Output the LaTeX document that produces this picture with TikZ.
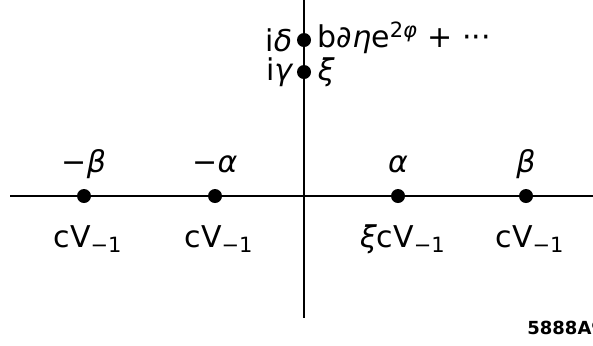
\documentclass[tikz,border=0pt]{standalone}
\usepackage{fontspec}
\setmainfont{DejaVu Sans}
\newcommand{\gr}[1]{{\itshape #1}}
\tikzset{
  pt/.style={circle, fill=black, inner sep=0pt, minimum size=7pt},
  lbl/.style={inner sep=1pt, font=\fontsize{15}{17}\selectfont},
}
\begin{document}
\begin{tikzpicture}[x=0.5pt, y=-0.5pt]
    \useasboundingbox (0,0) rectangle (593,345);

    \coordinate (hl) at (10,196);
    \coordinate (hr) at (593,196);
    \coordinate (vt) at (304,0);
    \coordinate (vb) at (304,318);
    \draw[line width=1.2pt] (hl) -- (hr);
    \draw[line width=1.2pt] (vt) -- (vb);

    \node[pt] (mb) at (84,196)  {};
    \node[pt] (ma) at (215,196) {};
    \node[pt] (pa) at (398,196) {};
    \node[pt] (pb) at (526,196) {};
    \node[pt] (id) at (304,40)  {};
    \node[pt] (ig) at (304,72)  {};

    \node[lbl] at (84,164)  {−\gr{β}};
    \node[lbl] at (215,164) {−\gr{α}};
    \node[lbl] at (398,164) {\gr{α}};
    \node[lbl] at (526,164) {\gr{β}};
    \node[lbl] at (88,239)  {cV\textsubscript{−1}};
    \node[lbl] at (219,239) {cV\textsubscript{−1}};
    \node[lbl] at (403,239) {\gr{ξ}cV\textsubscript{−1}};
    \node[lbl] at (530,239) {cV\textsubscript{−1}};

    \node[lbl, left=1pt] at (id.west) {i\gr{δ}};
    \node[lbl, left=1pt] at (ig.west) {i\gr{γ}};
    \node[lbl, right=2pt, yshift=1pt] at (id.east) {b∂\gr{η}e\textsuperscript{2\gr{φ}} + ···};
    \node[lbl, right=2pt] at (ig.east) {\gr{ξ}};

    \node[lbl, anchor=west, inner sep=0pt, font=\fontsize{9}{11}\selectfont\bfseries] at (527,328) {5888A9};
\end{tikzpicture}
\end{document}
